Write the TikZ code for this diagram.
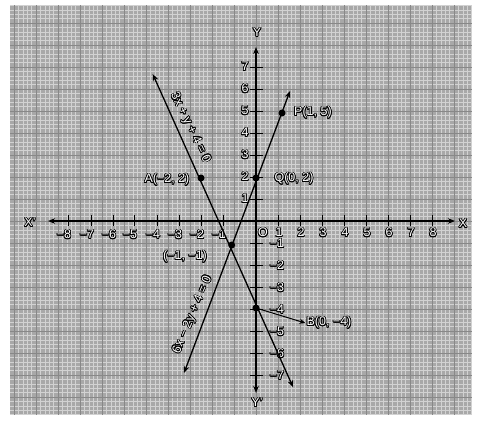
\documentclass[tikz,border=0pt]{standalone}
\usepackage{fontspec}
\setmainfont{Liberation Sans}
\usepackage[copies]{contour}
\contourlength{0.75pt}
\usetikzlibrary{arrows.meta}
\definecolor{paper}{HTML}{A8A8A8}
\definecolor{minorln}{HTML}{D2D2D2}
\definecolor{majorln}{HTML}{888888}
\newcommand{\olbl}[1]{\contour{black}{#1}}
\tikzset{
  tip/.tip={Stealth[length=7pt,width=5.5pt]},
  ax/.style={line width=1.3pt, tip-tip},
  gline/.style={line width=1.3pt, tip-tip},
  tickmark/.style={line width=1pt},
  lab/.style={text=white, font=\fontsize{12.5}{12.5}\selectfont, inner sep=1pt},
  dot/.style={circle, fill=black, inner sep=0pt, minimum size=7pt},
  minorgrid/.style={draw=minorln, line width=0.6pt},
  majorgrid/.style={draw=majorln, line width=1pt}
}
\begin{document}
\begin{tikzpicture}[x=1pt,y=-1pt]
\useasboundingbox (0,0) rectangle (481,421);
% graph paper
\fill[paper] (10,5) rectangle (472,415);
\begin{scope}
\clip (10,5) rectangle (472,415);
\foreach \i in {-56,...,49} \draw[minorgrid] ({256+4.4*\i},5) -- ({256+4.4*\i},415);
\foreach \i in {-50,...,45} \draw[minorgrid] (10,{221+4.4*\i}) -- (472,{221+4.4*\i});
\foreach \i in {-12,...,10} \draw[majorgrid] ({256+22*\i},5) -- ({256+22*\i},415);
\foreach \i in {-10,...,9} \draw[majorgrid] (10,{221+22*\i}) -- (472,{221+22*\i});
\end{scope}

% axes
\coordinate (xl) at (48,221);
\coordinate (xr) at (455,221);
\coordinate (yt) at (256,47);
\coordinate (yb) at (256,393);
\draw[ax] (xl) -- (xr);
\draw[ax] (yb) -- (yt);
\node[lab] (Xp) at (30,223) {\olbl{X'}};
\node[lab] (X) at (463,224) {\olbl{X}};
\node[lab] (Y) at (257,33) {\olbl{Y}};
\node[lab] (Yp) at (257,403) {\olbl{Y'}};

% x ticks and labels
\foreach \n in {1,...,8} {
  \draw[tickmark] ({256+22*\n},215) -- ({256+22*\n},226);
  \node[lab] (xp\n) at ({257+22*\n},233) {\olbl{\n}};
}
\foreach \n/\px in {8/68,7/91,6/113,5/134,4/157,3/179,2/201,1/223} {
  \draw[tickmark] (\px,215) -- (\px,226);
  \node[lab] (xn\n) at ({\px-4},235) {\olbl{−\n}};
}
\node[lab] (O) at (263,233) {\olbl{O}};

% y ticks and labels
\foreach \n in {1,...,7} {
  \draw[tickmark] (250,{221-22*\n}) -- (263,{221-22*\n});
  \node[lab] (yp\n) at (245,{221-22*\n}) {\olbl{\n}};
  \draw[tickmark] (250,{221+22*\n}) -- (263,{221+22*\n});
  \node[lab] (yn\n) at (277,{222+22*\n}) {\olbl{−\n}};
}

% points
\node[dot] (A) at (201,178) {};
\node[dot] (I) at (231.7,245) {};
\node[dot] (B) at (256,308) {};
\node[dot] (Q) at (256,178) {};
\node[dot] (P) at (282,113) {};

% lines
\coordinate (l1s) at (152.7,74);
\coordinate (l1e) at (293,387);
\coordinate (l2s) at (184,373);
\coordinate (l2e) at (290,91);
\draw[gline] (l1s) -- (l1e);
\draw[gline] (l2s) -- (l2e);

% B pointer
\node[lab] (Blab) at (329,323) {\olbl{B(0, −4)}};
\draw[line width=1pt, -{Stealth[length=6pt,width=5pt]}] (B.center) -- (Blab.west);

% point labels
\node[lab] (Plab) at (313,113) {\olbl{P(1, 5)}};
\node[lab] (Qlab) at (294,179) {\olbl{Q(0, 2)}};
\node[lab] (Alab) at (167,180) {\olbl{A(−2, 2)}};
\node[lab] (Ilab) at (185,257) {\olbl{(−1, −1)}};

% line labels
\node[lab, rotate=-64] (L1) at (190,128) {\olbl{3x + y + 4 = 0}};
\node[lab, rotate=67] (L2) at (193,315) {\olbl{6x − 2y + 4 = 0}};
\end{tikzpicture}
\end{document}
